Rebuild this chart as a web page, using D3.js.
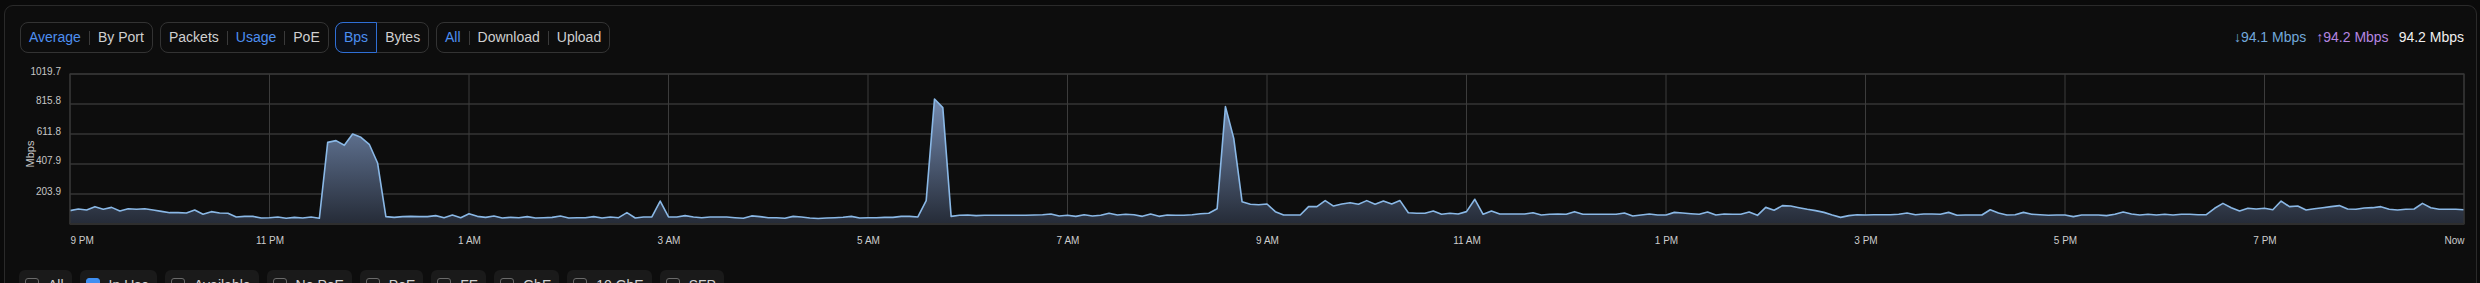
<!DOCTYPE html>
<html>
<head>
<meta charset="utf-8">
<script src="https://cdn.jsdelivr.net/npm/d3@7"></script>
<style>
  html, body { margin: 0; padding: 0; width: 2480px; height: 283px; overflow: hidden;
    background: #0a0a0a; font-family: "Liberation Sans", Arial, sans-serif; }
  #panel { position: absolute; left: 4px; top: 5px; width: 2473px; height: 330px; box-sizing: border-box;
    border: 1px solid #2a2a2a; border-radius: 9px; background: #0d0d0d; }
  #chart { position: absolute; left: 0; top: 0; }
  .grp { position: absolute; top: 22px; height: 31px; box-sizing: border-box; border: 1px solid #333;
    border-radius: 8px; display: flex; align-items: center; font-size: 14px; color: #d0d0d0; }
  .grp .it { padding: 0 8px; line-height: 29px; white-space: nowrap; }
  .grp .on { color: #4d8ff0; }
  .grp .sel { color: #4d8ff0; border: 1px solid #2f6fd6; border-radius: 8px 0 0 8px; margin: -1px 0 -1px -1px;
    line-height: 29px; background: #0c111b; }
  .grp .sep { width: 1px; height: 14px; background: #3a3a3a; }
  #stats { position: absolute; right: 16px; top: 22px; line-height: 31px; font-size: 14px; white-space: nowrap; }
  #stats span { margin-left: 10px; }
  #chips { position: absolute; left: 19px; top: 270px; display: flex; gap: 8px; }
  .chip { height: 30px; background: #1a1a1a; border-radius: 6px; padding: 0 8px 0 6px; display: flex;
    align-items: center; font-size: 14px; color: #d0d0d0; white-space: nowrap; }
  .box { width: 14px; height: 14px; box-sizing: border-box; border: 1.5px solid #6a6a6a; border-radius: 3px; margin-right: 9px; }
  .box.on { background: #3f8ff2; border-color: #3f8ff2; }
</style>
</head>
<body>
<div id="panel"></div>
<svg id="chart" width="2480" height="283"></svg>
<div id="stats"></div>
<div id="chips"></div>
<script>
// toolbar / legend content
const toolbarGroups = [
  { left: 20,  items: ["Average", "By Port"], active: "Average" },
  { left: 160, items: ["Packets", "Usage", "PoE"], active: "Usage" },
  { left: 335, items: ["Bps", "Bytes"], active: "Bps", boxed: true },
  { left: 436, items: ["All", "Download", "Upload"], active: "All" }
];
const statLabels = ["\u219394.1 Mbps", "\u219194.2 Mbps", "94.2 Mbps"];
const statColors = ["#72a8da", "#b586e0", "#f0f0f0"];
const chipLabels = ["All", "In Use", "Available", "No PoE", "PoE", "FE", "GbE", "10 GbE", "SFP"];
const chipChecked = ["In Use"];

// series: Mbps every 5 minutes, 9 PM -> Now
const startTime = new Date(2024, 0, 1, 21, 0);
const stepMinutes = 5;
const mbps = [
  91,102,95,118,100,113,88,104,100,104,95,86,77,77,75,95,66,84,75,73,48,52,52,41,43,48,39,45,41,48,39,
  555,567,535,612,589,542,415,50,
  45,50,52,50,50,57,43,61,43,70,52,45,54,41,45,43,50,41,43,45,54,41,43,43,50,41,48,43,77,41,48,48,
  156,48,48,57,48,43,48,48,48,
  43,39,55,50,43,43,39,52,48,41,37,41,43,46,52,41,
  43,43,45,45,52,52,
  48,159,850,791,52,
  59,61,57,59,59,59,59,59,59,61,63,68,54,59,52,63,54,59,73,61,66,63,52,68,52,61,59,59,63,70,73,104,
  798,582,152,134,131,136,84,61,61,61,
  118,118,159,122,136,145,134,159,134,156,136,159,77,73,73,88,66,73,68,84,168,66,88,68,68,68,68,77,61,66,68,66,84,66,66,
  66,66,66,75,54,61,68,61,61,79,75,70,66,82,61,68,66,66,82,59,113,93,125,122,111,100,91,79,61,45,
  57,63,61,63,63,63,66,75,63,68,68,66,79,59,61,61,61,97,75,61,63,79,66,63,59,61,61,50,61,61,
  61,57,66,82,68,61,66,61,66,61,66,66,63,63,107,140,111,88,107,102,107,97,156,118,122,95,104,111,118,125,
  102,100,109,111,118,100,95,100,102,140,111,100,100,100,97
];
const yTickValues = [203.9, 407.9, 611.8, 815.8, 1019.7];
const yMax = 1019.7;
const yTitle = "Mbps";

// ---------- toolbar ----------
toolbarGroups.forEach(g => {
  const div = d3.select("body").append("div").attr("class", "grp").style("left", g.left + "px");
  g.items.forEach((label, i) => {
    if (i > 0 && !g.boxed) div.append("div").attr("class", "sep");
    const cls = label === g.active ? (g.boxed ? "it sel" : "it on") : "it";
    div.append("span").attr("class", cls).text(label);
  });
});

d3.select("#stats").selectAll("span").data(statLabels).join("span")
  .style("color", (d, i) => statColors[i]).text(d => d);

const chips = d3.select("#chips").selectAll(".chip").data(chipLabels).join("div").attr("class", "chip");
chips.append("div").attr("class", d => chipChecked.includes(d) ? "box on" : "box");
chips.append("span").text(d => d);

// ---------- chart ----------
const plot = { left: 70, right: 2464, top: 74, bottom: 224 };
const data = mbps.map((v, i) => ({ t: d3.timeMinute.offset(startTime, i * stepMinutes), v }));
const endTime = data[data.length - 1].t;

const x = d3.scaleTime().domain([startTime, endTime]).range([plot.left, plot.right]);
const y = d3.scaleLinear().domain([0, yMax]).range([plot.bottom, plot.top]);
// every 2 hours counted from the start (9 PM, 11 PM, ...)
const xTicks = d3.timeHour.range(startTime, d3.timeMinute.offset(endTime, 1), 2);

const svg = d3.select("#chart");
const defs = svg.append("defs");
const grad = defs.append("linearGradient").attr("id", "fillGrad")
  .attr("gradientUnits", "userSpaceOnUse").attr("x1", 0).attr("x2", 0)
  .attr("y1", plot.top).attr("y2", plot.bottom);
grad.append("stop").attr("offset", "0%").attr("stop-color", "#829cc6");
grad.append("stop").attr("offset", "100%").attr("stop-color", "#252b37");

// horizontal grid
svg.append("g").selectAll("line").data(yTickValues).join("line")
  .attr("x1", plot.left).attr("x2", plot.right)
  .attr("y1", d => y(d)).attr("y2", d => y(d))
  .attr("stroke", "#343434").attr("stroke-width", 1.5);

// vertical grid
svg.append("g").selectAll("line").data(xTicks).join("line")
  .attr("x1", d => x(d)).attr("x2", d => x(d))
  .attr("y1", plot.top).attr("y2", plot.bottom)
  .attr("stroke", "#3c3c3c").attr("stroke-width", 1);

// area + line
svg.append("path").datum(data)
  .attr("fill", "url(#fillGrad)")
  .attr("d", d3.area().x(d => x(d.t)).y0(y(0)).y1(d => y(d.v)));
svg.append("path").datum(data)
  .attr("fill", "none").attr("stroke", "#8ab8e6").attr("stroke-width", 1.6).attr("stroke-linejoin", "round")
  .attr("d", d3.line().x(d => x(d.t)).y(d => y(d.v)));

// frame
svg.append("rect").attr("x", plot.left).attr("y", plot.top)
  .attr("width", plot.right - plot.left).attr("height", plot.bottom - plot.top)
  .attr("fill", "none").attr("stroke", "#363636").attr("stroke-width", 1.2);
svg.append("line").attr("x1", plot.left).attr("x2", plot.right)
  .attr("y1", plot.bottom).attr("y2", plot.bottom)
  .attr("stroke", "#2e2e2e").attr("stroke-width", 2);

// y axis labels
const yAxis = svg.append("g").attr("transform", `translate(${plot.left - 9},0)`)
  .call(d3.axisLeft(y).tickValues(yTickValues).tickSize(0).tickFormat(d3.format(".1f")));
yAxis.select(".domain").remove();
yAxis.selectAll("text").attr("x", 0).attr("dy", "0")
  .style("font-family", "'Liberation Sans', Arial, sans-serif").style("font-size", "10px").attr("fill", "#c6c6c6");

svg.append("text").attr("transform", `translate(34,154) rotate(-90)`)
  .attr("text-anchor", "middle").style("font-family", "'Liberation Sans', Arial, sans-serif")
  .style("font-size", "11px").attr("fill", "#c6c6c6").text(yTitle);

// x axis labels
const fmt = d3.timeFormat("%-I %p");
const xAxis = svg.append("g").attr("transform", `translate(0,${plot.bottom})`)
  .call(d3.axisBottom(x).tickValues(xTicks).tickSize(0)
    .tickFormat((d, i) => i === xTicks.length - 1 ? "Now" : fmt(d)));
xAxis.select(".domain").remove();
xAxis.selectAll("text").attr("y", 19.5).attr("dy", "0")
  .style("font-family", "'Liberation Sans', Arial, sans-serif").style("font-size", "10px").attr("fill", "#cccccc")
  .attr("text-anchor", (d, i) => i === 0 ? "start" : (i === xTicks.length - 1 ? "end" : "middle"));
</script>
</body>
</html>
